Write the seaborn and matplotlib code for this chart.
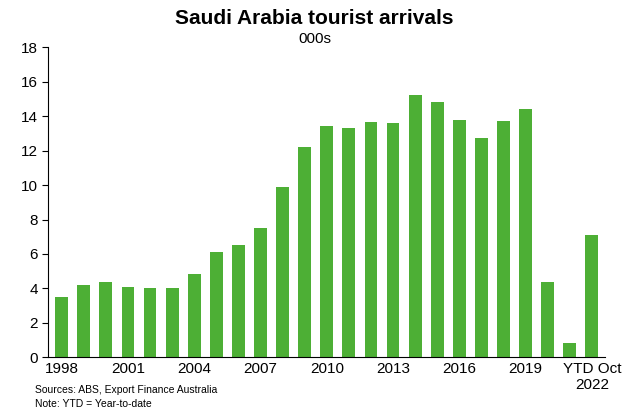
import pandas as pd
import seaborn as sns
import matplotlib.pyplot as plt

# Data
periods = [str(y) for y in range(1998, 2022)] + ["YTD Oct\n2022"]
arrivals = [3.5, 4.2, 4.4, 4.1, 4.05, 4.0, 4.85, 6.1, 6.55, 7.5, 9.9, 12.2, 13.45,
            13.35, 13.65, 13.6, 15.25, 14.85, 13.8, 12.75, 13.75, 14.45, 4.35, 0.8, 7.1]
shown_labels = ["1998", "2001", "2004", "2007", "2010", "2013", "2016", "2019", "YTD Oct\n2022"]

df = pd.DataFrame({"period": periods, "arrivals": arrivals})

plt.rcParams["font.family"] = "Liberation Sans"
fig = plt.figure(figsize=(6.29, 4.13), dpi=100)
ax = fig.add_axes([0.077, 0.135, 0.885, 0.75])

sns.barplot(data=df, x="period", y="arrivals", color="#4DAF35", saturation=1,
            width=0.58, ax=ax)

ax.set_ylim(0, 18)
ax.set_yticks(range(0, 19, 2))
ax.set_xlim(-0.6, len(periods) - 0.4)
ticks = [i for i, p in enumerate(periods) if p in shown_labels]
ax.set_xticks(ticks)
ax.set_xticklabels([periods[i] for i in ticks])
ax.tick_params(axis="both", labelsize=11, length=0)
ax.tick_params(axis="y", length=4, direction="out")
ax.set_xlabel("")
ax.set_ylabel("")
for s in ["top", "right"]:
    ax.spines[s].set_visible(False)

fig.text(0.5, 0.955, "Saudi Arabia tourist arrivals", ha="center", va="center",
         fontsize=15, fontweight="bold")
fig.text(0.5, 0.905, "000s", ha="center", va="center", fontsize=11)
fig.text(0.055, 0.055, "Sources: ABS, Export Finance Australia", fontsize=7.5, va="center")
fig.text(0.055, 0.022, "Note: YTD = Year-to-date", fontsize=7.5, va="center")

fig.savefig("out.png", dpi=100)
